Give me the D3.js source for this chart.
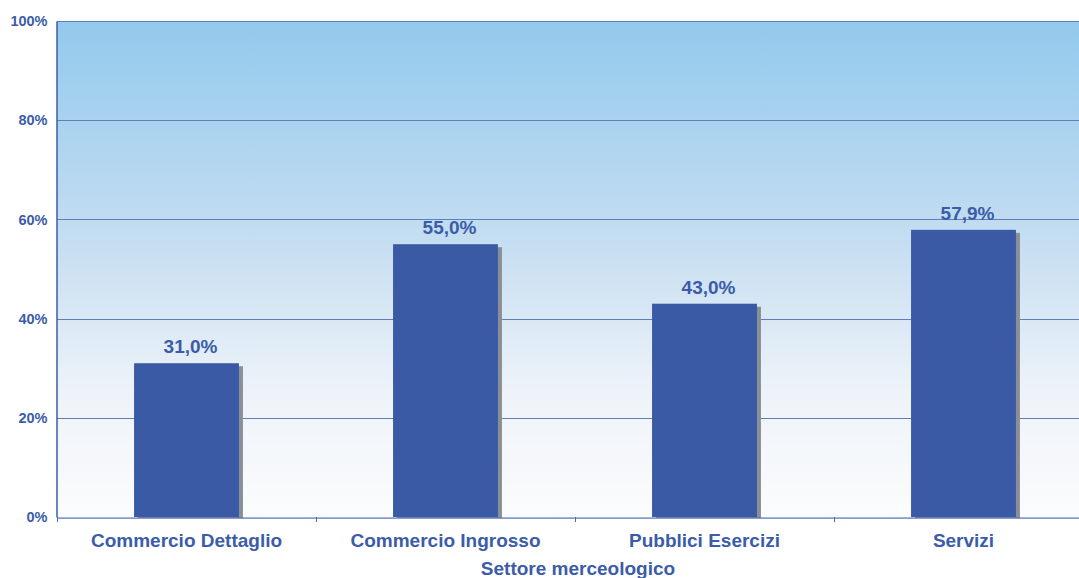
<!DOCTYPE html>
<html>
<head>
<meta charset="utf-8">
<script src="https://cdn.jsdelivr.net/npm/d3@7"></script>
<style>
  html, body { margin: 0; padding: 0; background: #ffffff; }
  svg { display: block; font-family: "Liberation Sans", Arial, sans-serif; }
</style>
</head>
<body>
<svg id="chart" width="1079" height="578"></svg>
<script>
// Share by business sector
const categories = ["Commercio Dettaglio", "Commercio Ingrosso", "Pubblici Esercizi", "Servizi"];
const values = [31.0, 55.0, 43.0, 57.9];
const yTicks = [0, 20, 40, 60, 80, 100];
const axisTitle = "Settore merceologico";

const svg = d3.select("#chart");
const margin = { left: 57, top: 21, right: -14, bottom: 61 };
const W = 1079, H = 578;
const x0 = margin.left, x1 = W - margin.right;
const y0 = H - margin.bottom, y1 = margin.top;

const textColor = "#3b5ca8";
const barColor = "#3a5aa5";

const x = d3.scaleBand().domain(categories).range([x0, x1]).paddingInner(0.595).paddingOuter(0.2975);
const xb = d3.scaleBand().domain(categories).range([x0, x1]);
const y = d3.scaleLinear().domain([0, 100]).range([y0, y1]);

// background gradient of the plot area
const defs = svg.append("defs");
const grad = defs.append("linearGradient").attr("id", "bg").attr("x1", 0).attr("y1", 0).attr("x2", 0).attr("y2", 1);
grad.append("stop").attr("offset", "0%").attr("stop-color", "#92c9ed");
grad.append("stop").attr("offset", "45%").attr("stop-color", "#c6def1");
grad.append("stop").attr("offset", "75%").attr("stop-color", "#eef3f9");
grad.append("stop").attr("offset", "100%").attr("stop-color", "#fbfcfd");

svg.append("rect")
  .attr("x", x0).attr("y", y1)
  .attr("width", x1 - x0).attr("height", y0 - y1)
  .attr("fill", "url(#bg)");

// horizontal gridlines
svg.append("g")
  .selectAll("line")
  .data(yTicks.filter(d => d > 0))
  .join("line")
  .attr("x1", x0).attr("x2", x1)
  .attr("y1", d => Math.round(y(d)) + 0.5).attr("y2", d => Math.round(y(d)) + 0.5)
  .attr("stroke", "#5f7fb8").attr("stroke-width", 1);

// y axis
const yAxis = svg.append("g")
  .attr("transform", `translate(${x0 - 0.5},0)`)
  .call(d3.axisLeft(y).tickValues(yTicks).tickFormat(d => d + "%").tickSize(0).tickPadding(9));
yAxis.select(".domain").attr("stroke", "#3b5dab").attr("stroke-width", 1.5);
yAxis.selectAll("text")
  .attr("fill", textColor).attr("font-size", 14.5).attr("font-weight", "bold")
  .attr("font-family", "'Liberation Sans', Arial, sans-serif");

// bar shadows
svg.append("g")
  .selectAll("rect")
  .data(values)
  .join("rect")
  .attr("x", (d, i) => x(categories[i]) + 4)
  .attr("y", d => y(d) + 3)
  .attr("width", x.bandwidth())
  .attr("height", d => y0 - y(d) - 1)
  .attr("fill", "#8a8f97");

// bars
svg.append("g")
  .selectAll("rect")
  .data(values)
  .join("rect")
  .attr("x", (d, i) => x(categories[i]))
  .attr("y", d => y(d))
  .attr("width", x.bandwidth())
  .attr("height", d => y0 - y(d))
  .attr("fill", barColor);

// value labels
svg.append("g")
  .selectAll("text")
  .data(values)
  .join("text")
  .attr("x", (d, i) => x(categories[i]) + x.bandwidth() / 2 + 4)
  .attr("y", d => y(d) - 10)
  .attr("text-anchor", "middle")
  .attr("fill", textColor)
  .attr("font-size", 19).attr("font-weight", "bold")
  .text(d => d.toFixed(1).replace(".", ",") + "%");

// x axis
svg.append("line")
  .attr("x1", x0).attr("x2", x1)
  .attr("y1", y0 + 1.5).attr("y2", y0 + 1.5)
  .attr("stroke", "#c9cce8").attr("stroke-width", 1);
const xAxis = svg.append("g")
  .attr("transform", `translate(0,${y0 + 0.5})`)
  .call(d3.axisBottom(xb).tickSize(0).tickPadding(16));
xAxis.select(".domain").attr("stroke", "#4a6ab0").attr("stroke-width", 1.2);
xAxis.selectAll("text")
  .attr("fill", textColor).attr("font-size", 19).attr("font-weight", "bold")
  .attr("font-family", "'Liberation Sans', Arial, sans-serif");
// category separators
svg.append("g")
  .selectAll("line")
  .data(categories.concat([null]))
  .join("line")
  .attr("x1", (d, i) => Math.round(x0 + xb.step() * i) + 0.5)
  .attr("x2", (d, i) => Math.round(x0 + xb.step() * i) + 0.5)
  .attr("y1", y0).attr("y2", y0 + 5)
  .attr("stroke", "#4a6ab0").attr("stroke-width", 1);

// axis title
svg.append("text")
  .attr("x", (x0 + x1) / 2 + 3)
  .attr("y", 575)
  .attr("text-anchor", "middle")
  .attr("fill", textColor)
  .attr("font-size", 19).attr("font-weight", "bold")
  .text(axisTitle);
</script>
</body>
</html>
